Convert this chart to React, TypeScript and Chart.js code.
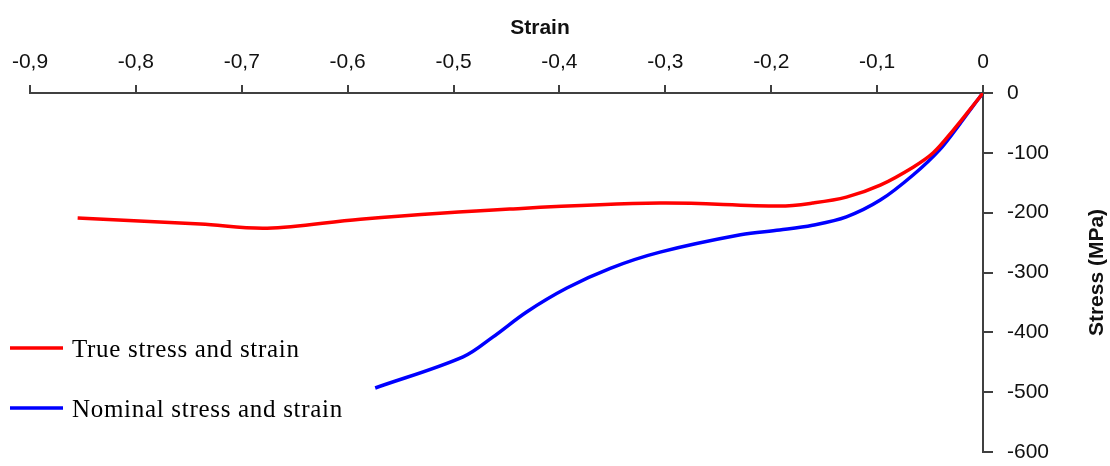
import { useEffect, useRef } from 'react';
import { Chart, registerables } from 'chart.js';
Chart.register(...registerables);

const xTitle = 'Strain';
const yTitle = 'Stress (MPa)';
const legendLabels = ['True stress and strain', 'Nominal stress and strain'];
const seriesColors = ['#ff0000', '#0000ff'];

const trueStrain = [-0.855, -0.739, -0.676, -0.588, -0.447, -0.305, -0.192, -0.161, -0.129, -0.097, -0.066, -0.047, -0.028, -0.012, 0];
const trueStress = [-209, -219, -226, -211, -194, -184, -189, -184, -174, -154, -124, -100, -62, -27, 0];

const nominalStrain = [-0.574, -0.491, -0.463, -0.431, -0.393, -0.352, -0.305, -0.229, -0.192, -0.161, -0.129, -0.097, -0.066, -0.041, -0.022, -0.0095, 0];
const nominalStress = [-493, -441, -408, -366, -326, -293, -266, -237, -229, -221, -207, -179, -137, -95, -52, -22, 0];

const xMin = -0.9;
const xMax = 0;
const xStep = 0.1;
const yMin = -600;
const yMax = 0;
const yStep = 100;

function fmtX(v: number): string {
  const r = Math.round(v * 10) / 10;
  if (r === 0) return '0';
  return r.toFixed(1).replace('.', ',');
}

export default function App() {
  const ref = useRef<HTMLCanvasElement>(null);
  useEffect(() => {
    if (!ref.current) return;
    const textPlugin = {
      id: 'customTexts',
      afterDraw(chart: any) {
        const { ctx, chartArea } = chart;
        ctx.save();
        ctx.fillStyle = '#111';
        ctx.font = 'bold 21px "Liberation Sans"';
        ctx.textAlign = 'center';
        ctx.textBaseline = 'middle';
        ctx.fillText(xTitle, 540, 28);
        ctx.save();
        ctx.translate(1097, (chartArea.top + chartArea.bottom) / 2);
        ctx.rotate(-Math.PI / 2);
        ctx.fillText(yTitle, 0, 0);
        ctx.restore();
        // legend
        ctx.font = '25px "Liberation Serif"';
        ctx.textAlign = 'left';
        ctx.textBaseline = 'alphabetic';
        (ctx as any).letterSpacing = '0.7px';
        chart.data.datasets.forEach((ds: any, i: number) => {
          const ly = chartArea.bottom - 104 + i * 60;
          ctx.strokeStyle = ds.borderColor;
          ctx.lineWidth = 3.5;
          ctx.beginPath();
          ctx.moveTo(10, ly);
          ctx.lineTo(63, ly);
          ctx.stroke();
          ctx.fillStyle = '#000';
          ctx.fillText(ds.label, 72, ly + 9);
        });
        ctx.restore();
      },
    };
    const chart = new Chart(ref.current, {
      type: 'line',
      data: {
        datasets: [
          {
            label: legendLabels[0],
            data: trueStrain.map((x, i) => ({ x, y: trueStress[i] })),
            borderColor: seriesColors[0],
            backgroundColor: seriesColors[0],
            borderWidth: 3.5,
            pointRadius: 0,
            tension: 0.35,
          },
          {
            label: legendLabels[1],
            data: nominalStrain.map((x, i) => ({ x, y: nominalStress[i] })),
            borderColor: seriesColors[1],
            backgroundColor: seriesColors[1],
            borderWidth: 3.5,
            pointRadius: 0,
            tension: 0.35,
          },
        ],
      },
      options: {
        responsive: false,
        animation: false,
        layout: { padding: { left: 30, right: 0, top: 0, bottom: 14 } },
        plugins: { legend: { display: false }, tooltip: { enabled: false }, title: { display: false } },
        scales: {
          x: {
            type: 'linear',
            position: 'top',
            min: xMin,
            max: xMax,
            afterFit: (s: any) => { s.height = 93; s.paddingLeft = 0; s.paddingRight = 0; },
            ticks: {
              stepSize: xStep,
              callback: (v: any) => fmtX(Number(v)),
              color: '#111',
              font: { family: 'Liberation Sans', size: 21 },
              padding: 10,
              maxRotation: 0,
              autoSkip: false,
            },
            grid: { drawOnChartArea: false, drawTicks: true, tickLength: 8, color: '#404040', lineWidth: 2 },
            border: { display: true, color: '#404040', width: 2 },
          },
          y: {
            type: 'linear',
            position: 'right',
            min: yMin,
            max: yMax,
            afterFit: (s: any) => { s.width = 127; s.paddingTop = 0; s.paddingBottom = 0; },
            ticks: {
              stepSize: yStep,
              color: '#111',
              font: { family: 'Liberation Sans', size: 21 },
              padding: 14,
            },
            grid: { drawOnChartArea: false, drawTicks: true, tickLength: 10, color: '#404040', lineWidth: 2 },
            border: { display: true, color: '#404040', width: 2 },
          },
        },
      },
      plugins: [textPlugin],
    } as any);
    return () => chart.destroy();
  }, []);
  return (
    <div style={{ position: 'absolute', left: 0, top: 0, width: 1110, height: 466 }}>
      <canvas ref={ref} width={1110} height={466} />
    </div>
  );
}
